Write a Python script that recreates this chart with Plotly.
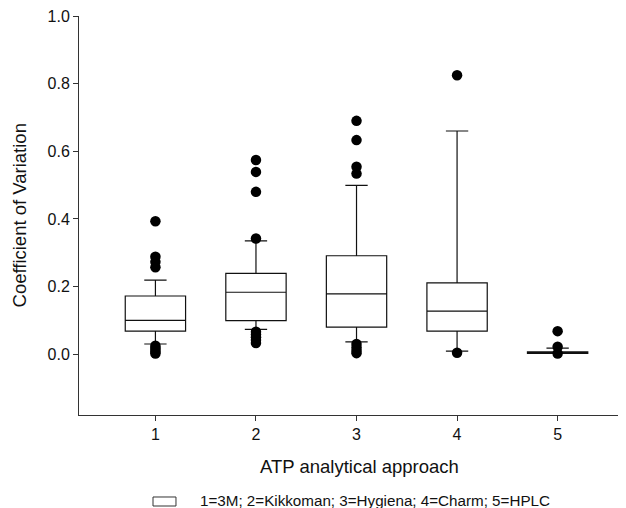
import plotly.graph_objects as go

# ---- data ----
approaches = [1, 2, 3, 4, 5]
q1 = [0.068, 0.099, 0.080, 0.068, 0.002]
median = [0.100, 0.183, 0.178, 0.127, 0.004]
q3 = [0.172, 0.239, 0.291, 0.211, 0.007]
lower_whisker = [0.030, 0.073, 0.036, 0.009, 0.002]
upper_whisker = [0.219, 0.335, 0.499, 0.660, 0.018]

outliers_1 = [0.393, 0.288, 0.273, 0.257, 0.025, 0.018, 0.012, 0.006, 0.002]
outliers_2 = [0.574, 0.539, 0.480, 0.342, 0.066, 0.058, 0.050, 0.042, 0.033]
outliers_3 = [0.690, 0.633, 0.554, 0.534, 0.030, 0.020, 0.010, 0.003]
outliers_4 = [0.825, 0.004]
outliers_5 = [0.068, 0.022, 0.002]

y_ticks = [0.0, 0.2, 0.4, 0.6, 0.8, 1.0]
legend_text = "1=3M; 2=Kikkoman; 3=Hygiena; 4=Charm; 5=HPLC"
x_title = "ATP analytical approach"
y_title = "Coefficient of Variation"

FONT = "Arial, Liberation Sans, sans-serif"
INK = "#111111"

fig = go.Figure()
fig.add_trace(go.Box(
    x=approaches, q1=q1, median=median, q3=q3,
    lowerfence=lower_whisker, upperfence=upper_whisker,
    width=0.6, whiskerwidth=0.37, boxpoints=False,
    fillcolor="white", line=dict(color=INK, width=1.2),
    showlegend=False, hoverinfo="skip",
))

out_x, out_y = [], []
for xv, vals in zip(approaches, [outliers_1, outliers_2, outliers_3, outliers_4, outliers_5]):
    out_x += [xv] * len(vals)
    out_y += vals
fig.add_trace(go.Scatter(
    x=out_x, y=out_y, mode="markers",
    marker=dict(color="black", size=10.5, line=dict(width=0)),
    showlegend=False, hoverinfo="skip",
))

# the page body has an 8px default margin, so the figure is 8px smaller
fig.update_layout(
    width=618, height=500,
    margin=dict(l=71, r=0, t=8, b=93, autoexpand=False),
    plot_bgcolor="white", paper_bgcolor="white",
    font=dict(family=FONT, size=16, color=INK),
    xaxis=dict(range=[0.24, 5.68], tickvals=approaches, ticks="outside", ticklen=5,
               tickcolor="#333", showline=True, linecolor="#333", linewidth=1,
               showgrid=False, zeroline=False, tickfont=dict(size=16), automargin=False),
    yaxis=dict(range=[-0.18, 1.0001], tickvals=y_ticks, tickformat=".1f", ticks="outside",
               ticklen=5, tickcolor="#333", showline=True, linecolor="#333", linewidth=1,
               showgrid=False, zeroline=False, tickfont=dict(size=16), automargin=False,
               ticklabeloverflow="allow"),
    shapes=[dict(type="rect", xref="paper", yref="paper",
                 x0=0.1353, x1=0.1773, y0=-0.2281, y1=-0.2055,
                 line=dict(color="#333", width=1), fillcolor="white")],
    annotations=[
        dict(text=x_title, xref="paper", yref="paper", x=0.5128, y=-0.1296,
             xanchor="center", yanchor="middle", showarrow=False, font=dict(size=18.5)),
        dict(text=y_title, xref="paper", yref="paper", x=-0.1079, y=0.5,
             xanchor="center", yanchor="middle", textangle=-90, showarrow=False,
             font=dict(size=18.5)),
        dict(text=legend_text, xref="paper", yref="paper", x=0.2176, y=-0.2155,
             xanchor="left", yanchor="middle", showarrow=False, font=dict(size=15.2)),
    ],
)

fig.write_html("out.html")
